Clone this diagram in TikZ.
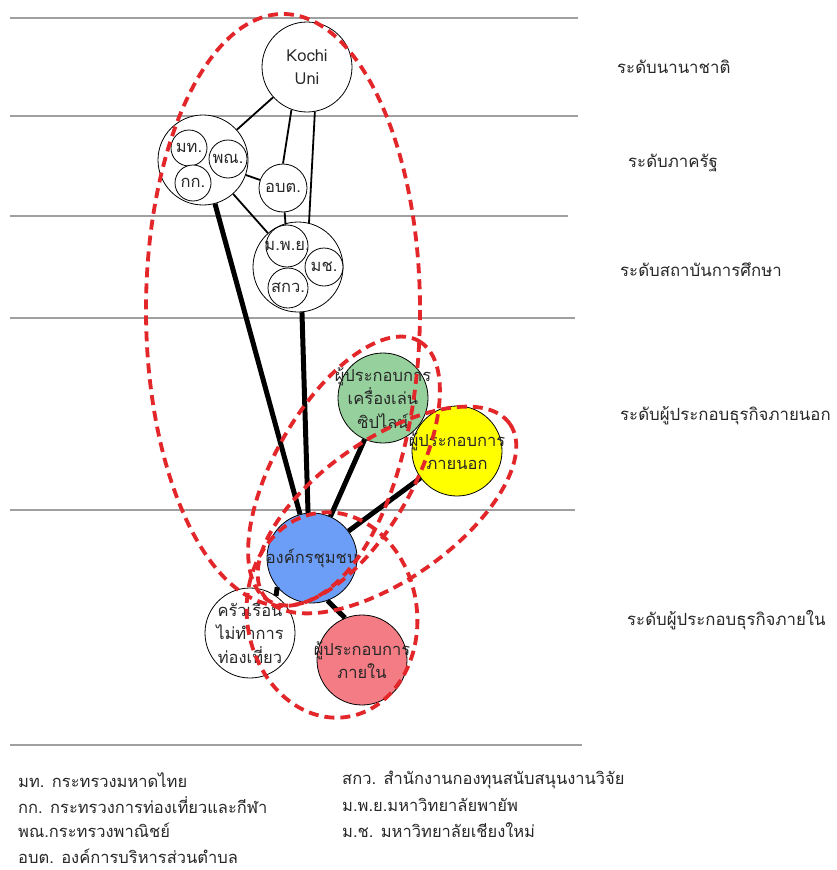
\documentclass[tikz,border=0pt]{standalone}
\usepackage{fontspec}
\setmainfont[Script=Thai]{Loma}
\definecolor{reddash}{RGB}{226,38,42}
\definecolor{levelgray}{RGB}{160,160,160}
\definecolor{greenfill}{RGB}{150,208,156}
\definecolor{yellowfill}{RGB}{255,255,0}
\definecolor{bluefill}{RGB}{108,158,248}
\definecolor{pinkfill}{RGB}{244,124,132}
\definecolor{txt}{RGB}{40,40,40}
\begin{document}
\begin{tikzpicture}[x=1pt,y=-1pt,
  level/.style={draw=levelgray, line width=1.6pt},
  circ/.style={circle, draw, line width=0.8pt, inner sep=0pt, fill=white},
  ctext/.style={align=center, inner sep=0pt, text=txt, font=\fontsize{16.5}{23.5}\selectfont},
  says/.style={label={[ctext]center:{#1}}},
  thinedge/.style={line width=1.8pt},
  thickedge/.style={line width=5pt},
  redell/.style={draw=reddash, line width=3.8pt, dash pattern=on 10pt off 6pt},
  levellabel/.style={anchor=west, text=txt, font=\fontsize{16.8}{20}\selectfont, inner sep=0pt},
  legend/.style={anchor=west, text=txt, font=\fontsize{16.5}{20}\selectfont, inner sep=0pt}
]
\useasboundingbox (0,0) rectangle (837,870);
\fill[white] (0,0) rectangle (837,870);

% level lines
\draw[level] (10,18) -- (578,18);
\draw[level] (10,116) -- (578,116);
\draw[level] (10,216) -- (568,216);
\draw[level] (10,318) -- (575,318);
\draw[level] (10,510) -- (575,510);
\draw[level] (10,745) -- (582,745);

% nodes
\node[circ, minimum size=90pt, says={Kochi\\Uni}] (kochi) at (307,67) {};
\node[circ, minimum size=90pt] (min) at (203,160) {};
\node[circ, minimum size=36pt, says={มท.}] (mt) at (189,148) {};
\node[circ, minimum size=38pt, says={พณ.}] (pn) at (228,159) {};
\node[circ, minimum size=36pt, says={กก.}] (kk) at (193,183) {};
\node[circ, minimum size=48pt, says={อบต.}] (obt) at (283,188) {};
\node[circ, minimum size=90pt] (inst) at (298,267) {};
\node[circ, minimum size=42pt, says={ม.พ.ย.}] (mpy) at (287,246) {};
\node[circ, minimum size=38pt, says={มช.}] (mch) at (324,267) {};
\node[circ, minimum size=40pt, says={สกว.}] (skw) at (288,288) {};
\node[circ, minimum size=90pt, fill=greenfill, says={ผู้ประกอบการ\\เครื่องเล่น\\ซิปไลน์}] (zip) at (383,398) {};
\node[circ, minimum size=90pt, fill=yellowfill, says={ผู้ประกอบการ\\ภายนอก}] (ext) at (457,451) {};
\node[circ, minimum size=90pt, fill=bluefill, says={องค์กรชุมชน}] (comm) at (312,558) {};
\node[circ, minimum size=90pt, says={ครัวเรือน\\ไม่ทำการ\\ท่องเที่ยว}] (hh) at (250,633) {};
\node[circ, minimum size=90pt, fill=pinkfill, says={ผู้ประกอบการ\\ภายใน}] (int) at (362,660) {};

% thin connectors
\draw[thinedge] (kochi) -- (min);
\draw[thinedge] (kochi.-110) -- (obt.north);
\draw[thinedge] (kochi.-80) -- (inst.76);
\draw[thinedge] (min) -- (obt);
\draw[thinedge] (min) -- (inst);
\draw[thinedge] (obt) -- (mpy);

% thick connectors
\draw[thickedge] (min) -- (comm);
\draw[thickedge] (inst.-85) -- (comm.95);
\draw[thickedge] (zip) -- (comm);
\draw[thickedge] (ext) -- (comm);
\draw[thickedge] (comm.-140) -- (hh.55);
\draw[thickedge] (comm.-70) -- (int.112);

% red dashed groupings
\coordinate (e1) at (283,310);
\coordinate (e2) at (344,471);
\coordinate (e3) at (387,510);
\coordinate (e4) at (332,615);
\draw[redell] (e1) ellipse [x radius=137, y radius=296];
\draw[redell, rotate around={60:(e2)}] (e2) ellipse [x radius=150, y radius=69];
\draw[redell, rotate around={35:(e3)}] (e3) ellipse [x radius=150, y radius=70];
\draw[redell, rotate around={8:(e4)}] (e4) ellipse [x radius=85, y radius=103];

% level labels
\node[levellabel] (l1) at (617,67) {ระดับนานาชาติ};
\node[levellabel] (l2) at (628,163) {ระดับภาครัฐ};
\node[levellabel] (l3) at (620,270) {ระดับสถาบันการศึกษา};
\node[levellabel] (l4) at (620,416) {ระดับผู้ประกอบธุรกิจภายนอก};
\node[levellabel] (l5) at (627,620) {ระดับผู้ประกอบธุรกิจภายใน};

% legend
\node[legend] (g1) at (18,780) {มท. กระทรวงมหาดไทย};
\node[legend] (g2) at (18,805) {กก. กระทรวงการท่องเที่ยวและกีฬา};
\node[legend] (g3) at (18,830) {พณ.กระทรวงพาณิชย์};
\node[legend] (g4) at (18,856) {อบต. องค์การบริหารส่วนตำบล};
\node[legend] (g5) at (342,780) {สกว. สำนักงานกองทุนสนับสนุนงานวิจัย};
\node[legend] (g6) at (342,805) {ม.พ.ย.มหาวิทยาลัยพายัพ};
\node[legend] (g7) at (342,830) {ม.ช. มหาวิทยาลัยเชียงใหม่};
\end{tikzpicture}
\end{document}
